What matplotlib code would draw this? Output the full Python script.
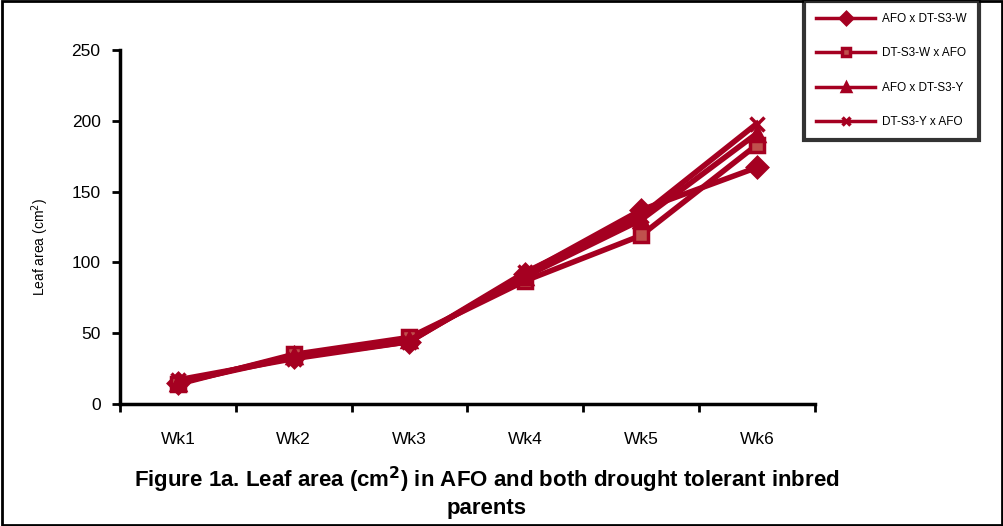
import matplotlib.pyplot as plt
from matplotlib.patches import Rectangle

plt.rcParams['font.family'] = ['Liberation Sans', 'DejaVu Sans']

# data
weeks = ["Wk1", "Wk2", "Wk3", "Wk4", "Wk5", "Wk6"]
afo_x_dtw = [15, 33, 44, 92, 137, 167]
dtw_x_afo = [14, 35, 47, 87, 119, 183]
afo_x_dty = [15, 34, 45, 90, 130, 191]
dty_x_afo = [17, 32, 44, 93, 133, 198]

series = [
    ("AFO x DT-S3-W", afo_x_dtw, "D"),
    ("DT-S3-W x AFO", dtw_x_afo, "s"),
    ("AFO x DT-S3-Y", afo_x_dty, "^"),
    ("DT-S3-Y x AFO", dty_x_afo, "x"),
]
red = "#A50021"

fig = plt.figure(figsize=(10.04, 5.26), dpi=100)
ax = fig.add_axes([0.1195, 0.232, 0.692, 0.673])

xs = range(len(weeks))
handles = []
for name, vals, mk in series:
    face = "#C0504D" if mk == "s" else red
    h, = ax.plot(xs, vals, color=red, lw=4, marker=mk, markersize=10,
                 markerfacecolor=face, markeredgecolor=red, markeredgewidth=2.5,
                 label=name)
    handles.append(h)

ax.set_xlim(-0.5, 5.5)
ax.set_ylim(0, 250)
ax.set_yticks([0, 50, 100, 150, 200, 250])
ax.set_xticks([i - 0.5 for i in range(7)], minor=False)
ax.set_xticklabels([])
ax.set_xticks(list(xs), minor=True)
ax.set_xticklabels(weeks, minor=True)
ax.tick_params(axis="x", which="minor", length=0, pad=20, labelsize=12.5)
ax.tick_params(axis="x", which="major", length=6, width=2, direction="out")
ax.tick_params(axis="y", length=6, width=2, direction="out", labelsize=12.5, pad=8)
for s in ["top", "right"]:
    ax.spines[s].set_visible(False)
for s in ["left", "bottom"]:
    ax.spines[s].set_linewidth(2.5)

fig.text(0.04, 0.53, "Leaf area (cm$^2$)", rotation=90, fontsize=10,
         ha="center", va="center")

fig.text(0.485, 0.065, "Figure 1a. Leaf area (cm$^\\mathbf{2}$) in AFO and both drought tolerant inbred\nparents",
         ha="center", va="center", fontsize=16, fontweight="bold", linespacing=1.15)

# figure border
fig.patches.append(Rectangle((0.002, 0.002), 0.996, 0.996, transform=fig.transFigure,
                             fill=False, lw=2, edgecolor="black"))

leg = fig.legend(handles=handles, loc="upper left", bbox_to_anchor=(0.8, 1.0),
                 fontsize=8.5, frameon=True, fancybox=False, borderpad=1.0,
                 labelspacing=1.9, handlelength=5, handletextpad=0.6,
                 markerscale=0.6, borderaxespad=0.1)
leg.get_frame().set_edgecolor("black")
leg.get_frame().set_linewidth(3)
for line in leg.get_lines():
    line.set_linewidth(2.5)

fig.savefig("out.png", dpi=100)
